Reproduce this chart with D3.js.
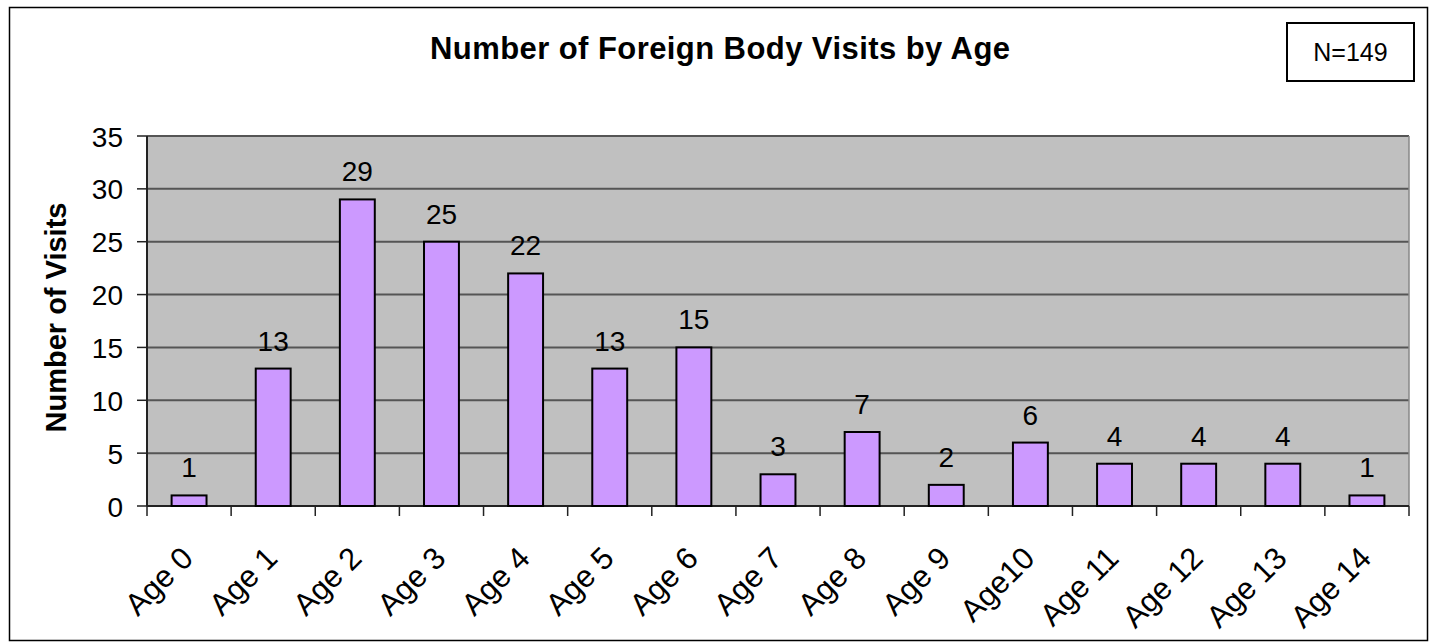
<!DOCTYPE html>
<html><head><meta charset="utf-8">
<script src="https://cdn.jsdelivr.net/npm/d3@7/dist/d3.min.js"></script>
<style>body{margin:0;background:#fff}svg{display:block}text{font-family:"Liberation Sans",Arial,sans-serif}</style>
</head><body><svg id="c" width="1431" height="643"></svg>
<script>
const categories = ["Age 0","Age 1","Age 2","Age 3","Age 4","Age 5","Age 6","Age 7","Age 8","Age 9","Age10","Age 11","Age 12","Age 13","Age 14"];
const visits = [1,13,29,25,22,13,15,3,7,2,6,4,4,4,1];
const yTicks = [0,5,10,15,20,25,30,35];
const titleText = "Number of Foreign Body Visits by Age";
const yLabel = "Number of Visits";
const nLabel = "N=149";

const svg = d3.select("#c");
const L = 147, R = 1409, T = 136, B = 506;
svg.append("rect").attr("x",9.5).attr("y",7.5).attr("width",1418).attr("height",633).attr("fill","#fff").attr("stroke","#000").attr("stroke-width",1.5);

const x = d3.scaleBand().domain(categories).range([L,R]).paddingInner(0.585).paddingOuter(0.2925);
const xb = d3.scaleBand().domain(categories).range([L,R]);
const y = d3.scaleLinear().domain([0,35]).range([B,T]);

svg.append("rect").attr("x",L).attr("y",T).attr("width",R-L).attr("height",B-T).attr("fill","#C0C0C0");
svg.append("g").selectAll("line").data(yTicks.filter(d=>d>0)).join("line")
  .attr("x1",L).attr("x2",R).attr("y1",d=>y(d)).attr("y2",d=>y(d)).attr("stroke","#555").attr("stroke-width",2);
svg.append("line").attr("x1",R).attr("x2",R).attr("y1",T).attr("y2",B).attr("stroke","#888").attr("stroke-width",1.5);

// y axis
svg.append("line").attr("x1",L).attr("x2",L).attr("y1",T).attr("y2",B).attr("stroke","#222").attr("stroke-width",2);
svg.append("g").selectAll("line").data(yTicks).join("line")
  .attr("x1",L-10).attr("x2",L).attr("y1",d=>y(d)).attr("y2",d=>y(d)).attr("stroke","#222").attr("stroke-width",1.5);
svg.append("g").selectAll("text").data(yTicks).join("text")
  .attr("x",L-24).attr("y",d=>y(d)+10.5).attr("text-anchor","end")
  .attr("font-size",28).text(d=>d);

// x axis
svg.append("line").attr("x1",L).attr("x2",R).attr("y1",B).attr("y2",B).attr("stroke","#222").attr("stroke-width",2);
const xt = categories.map(c=>xb(c)).concat([R]);
svg.append("g").selectAll("line").data(xt).join("line")
  .attr("x1",d=>d).attr("x2",d=>d).attr("y1",B).attr("y2",B+10).attr("stroke","#222").attr("stroke-width",1.5);
svg.append("g").selectAll("text").data(categories).join("text")
  .attr("transform",c=>`translate(${xb(c)+xb.bandwidth()/2+6},${B+54}) rotate(-45)`)
  .attr("text-anchor","end").attr("font-size",31).text(c=>c);

// bars
svg.append("g").selectAll("rect").data(visits).join("rect")
  .attr("x",(d,i)=>x(categories[i])).attr("width",x.bandwidth())
  .attr("y",d=>y(d)).attr("height",d=>B-y(d))
  .attr("fill","#CC99FF").attr("stroke","#000").attr("stroke-width",2);
svg.append("g").selectAll("text").data(visits).join("text")
  .attr("x",(d,i)=>x(categories[i])+x.bandwidth()/2).attr("y",d=>y(d)-18)
  .attr("text-anchor","middle").attr("font-size",28).text(d=>d);

// title
svg.append("text").attr("x",720).attr("y",59).attr("text-anchor","middle")
  .attr("font-size",31).attr("font-weight","bold")
  .attr("textLength",580).attr("lengthAdjust","spacing").text(titleText);
svg.append("text").attr("transform",`translate(66,${317.5}) rotate(-90)`).attr("text-anchor","middle")
  .attr("font-size",29).attr("font-weight","bold")
  .attr("textLength",230).attr("lengthAdjust","spacing").text(yLabel);

// N box
svg.append("rect").attr("x",1287).attr("y",23).attr("width",127).attr("height",58).attr("fill","#fff").attr("stroke","#000").attr("stroke-width",2);
svg.append("text").attr("x",1350.5).attr("y",61).attr("text-anchor","middle").attr("font-size",25).text(nLabel);
</script></body></html>
